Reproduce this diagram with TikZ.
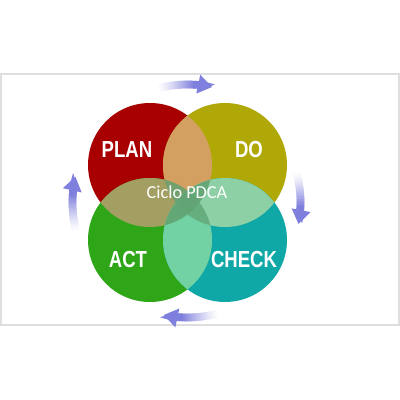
\documentclass[tikz,border=0pt]{standalone}
\usepackage{fontspec}
\setmainfont{Carlito}
\newfontfamily\wordfont[FakeStretch=0.8]{Liberation Sans}
\usetikzlibrary{arrows.meta}
\definecolor{planred}{HTML}{A80000}
\definecolor{doolive}{HTML}{B0A806}
\definecolor{actgreen}{HTML}{2EA618}
\definecolor{checkteal}{HTML}{10A8A6}
\definecolor{lensPD}{HTML}{D4A062}
\definecolor{lensPA}{HTML}{A39E62}
\definecolor{lensDC}{HTML}{8DD0A5}
\definecolor{lensAC}{HTML}{72D2A4}
\definecolor{lensmid}{HTML}{62A372}
\definecolor{cyclearrow}{HTML}{7F7FDD}
\begin{document}
\begin{tikzpicture}[x=0.025cm,y=0.025cm,
  every node/.style={text=white},
  stage/.style={font=\wordfont\bfseries\fontsize{16.5}{16}\selectfont},
  title/.style={font=\fontsize{13}{13}\selectfont}]
\fill[white] (0,0) rectangle (400,400);
\draw[black!13, line width=1.2pt] (1,75) rectangle (399,326);
\coordinate (mid) at (187.5,197.5);
\coordinate (plan) at (150,235);
\coordinate (do) at (225,235);
\coordinate (act) at (150,160);
\coordinate (check) at (225,160);
% the four circles
\fill[planred] (plan) circle (62);
\fill[doolive] (do) circle (62);
\fill[actgreen] (act) circle (62);
\fill[checkteal] (check) circle (62);
% overlaps
\begin{scope}\clip (plan) circle (62); \fill[lensPD] (do) circle (62); \fill[lensPA] (act) circle (62); \end{scope}
\begin{scope}\clip (check) circle (62); \fill[lensDC] (do) circle (62); \fill[lensAC] (act) circle (62); \end{scope}
\begin{scope}\clip (plan) circle (62); \fill[lensmid, opacity=0.9] (check) circle (62); \end{scope}
\begin{scope}\clip (do) circle (62); \fill[lensmid, opacity=0.75] (act) circle (62); \end{scope}
% labels
\node[stage] (planlbl) at (127,250) {PLAN};
\node[stage] (dolbl) at (249,250) {DO};
\node[stage] (actlbl) at (128,140) {ACT};
\node[stage] (checklbl) at (244,140) {CHECK};
\node[title] (cyclelbl) at (187,208) {Ciclo PDCA};
% arrows round the cycle, tails fading to white
\foreach \a/\b/\r in {104/78/118, 15/-11/113, -75/-102/115, 194/167/115}{
  \pgfmathsetmacro\e{\b+(\a-\b)*0.32}
  \foreach \i in {1,...,16}{
    \pgfmathsetmacro\s{\a+(\e-\a)*(\i-1)/16}
    \pgfmathsetmacro\t{\a+(\e-\a)*(\i+0.6)/16}
    \pgfmathsetmacro\op{100*(\i/16)^1.3}
    \draw[cyclearrow!\op!white, line width=5.5pt] ([shift={(\s:\r)}]mid) arc[start angle=\s, end angle=\t, radius=\r];
  }
  \draw[cyclearrow, line width=5.5pt, -{Triangle[width=13pt,length=10pt]}] ([shift={(\e:\r)}]mid) arc[start angle=\e, end angle=\b, radius=\r];
}
\end{tikzpicture}
\end{document}
